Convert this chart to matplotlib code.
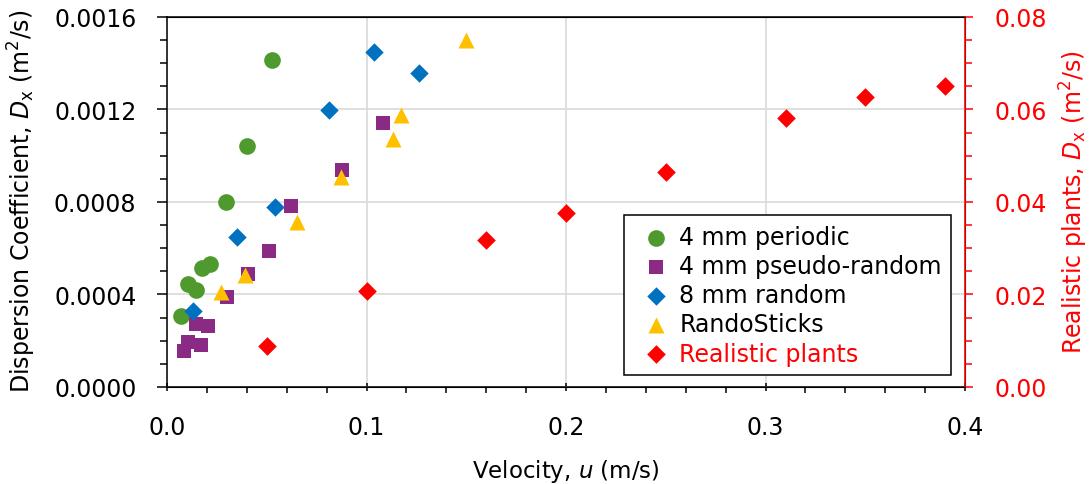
import matplotlib
matplotlib.use('Agg')
import numpy as np
from matplotlib import pyplot as plt
from matplotlib.ticker import MultipleLocator, FormatStrFormatter

# 4 mm periodic
per_u = [0.0069, 0.0107, 0.0145, 0.0174, 0.0216, 0.0294, 0.0403, 0.0525]
per_d = [0.000306, 0.000445, 0.00042, 0.000513, 0.000532, 0.0008, 0.001044, 0.001413]
# 4 mm pseudo-random
pse_u = [0.0084, 0.0107, 0.017, 0.0145, 0.0204, 0.0302, 0.0404, 0.0513, 0.0623, 0.0876, 0.1083]
pse_d = [0.000154, 0.000193, 0.000182, 0.000272, 0.000262, 0.00039, 0.000489, 0.000587, 0.000781, 0.00094, 0.00114]
# 8 mm random
rnd_u = [0.0132, 0.0351, 0.0541, 0.081, 0.1039, 0.1263]
rnd_d = [0.000327, 0.000647, 0.00078, 0.001198, 0.00145, 0.001358]
# RandoSticks
stk_u = [0.0269, 0.0391, 0.065, 0.0872, 0.1131, 0.1173, 0.150]
stk_d = [0.00041, 0.000484, 0.000715, 0.000909, 0.001072, 0.001178, 0.001502]
# Realistic plants (right axis)
pl_u = [0.05, 0.10, 0.16, 0.20, 0.25, 0.31, 0.35, 0.39]
pl_d = [0.0089, 0.0208, 0.0318, 0.0376, 0.0464, 0.0581, 0.0628, 0.0651]

plt.rcParams['font.family'] = ['DejaVu Sans']

fig = plt.figure(figsize=(10.89, 4.85), dpi=100)
ax = fig.add_axes([0.1534, 0.2, 0.7328, 0.763])
ax2 = ax.twinx()

h1 = ax.scatter(per_u, per_d, s=144, marker='o', color='#4E9A2E', linewidths=0, label='4 mm periodic', zorder=3)
h2 = ax.scatter(pse_u, pse_d, s=112, marker='s', color='#8B2A84', linewidths=0, label='4 mm pseudo-random', zorder=3)
h3 = ax.scatter(rnd_u, rnd_d, s=88, marker='D', color='#0070C0', linewidths=0, label='8 mm random', zorder=3)
h4 = ax.scatter(stk_u, stk_d, s=133, marker='^', color='#FFC000', linewidths=0, label='RandoSticks', zorder=3)
h5 = ax2.scatter(pl_u, pl_d, s=90, marker='D', color='#FF0000', linewidths=0, label='Realistic plants', zorder=3)

ax.set_xlim(0, 0.4)
ax.set_ylim(0, 0.0016)
ax2.set_ylim(0, 0.08)

ax.xaxis.set_major_locator(MultipleLocator(0.1))
ax.xaxis.set_minor_locator(MultipleLocator(0.02))
ax.yaxis.set_major_locator(MultipleLocator(0.0004))
ax.yaxis.set_minor_locator(MultipleLocator(0.0001))
ax.xaxis.set_major_formatter(FormatStrFormatter('%.1f'))
ax.yaxis.set_major_formatter(FormatStrFormatter('%.4f'))
ax2.yaxis.set_major_locator(MultipleLocator(0.02))
ax2.yaxis.set_minor_locator(MultipleLocator(0.005))
ax2.yaxis.set_major_formatter(FormatStrFormatter('%.2f'))

ax.grid(which='major', color='#D9D9D9', linewidth=1.2, zorder=0)
ax.set_axisbelow(True)

ax.tick_params(axis='y', which='major', direction='out', length=7, width=1.1, labelsize=17, pad=15)
ax.tick_params(axis='y', which='minor', direction='out', length=5, width=1.1)
ax.tick_params(axis='x', which='major', direction='inout', length=6, width=1.1, labelsize=17, pad=17)
ax.tick_params(axis='x', which='minor', direction='out', length=4, width=1.1)
ax2.tick_params(which='major', direction='out', length=6, width=1.1, labelsize=17, pad=15, colors='red')
ax2.tick_params(which='minor', direction='out', length=5, width=1.1, colors='red')

for s in ['left', 'bottom', 'top']:
    ax.spines[s].set_linewidth(1.1)
ax2.spines['right'].set_color('red')
ax2.spines['right'].set_linewidth(1.1)
ax2.spines['left'].set_visible(False)

ax.set_xlabel('Velocity, $u$ (m/s)', fontsize=16.5)
ax.set_ylabel('Dispersion Coefficient, $D_\\mathregular{x}$ (m$^2$/s)', fontsize=17)
ax2.set_ylabel('Realistic plants, $D_\\mathregular{x}$ (m$^2$/s)', fontsize=17, color='red')
ax.xaxis.set_label_coords(0.5, -0.189)
ax.yaxis.set_label_coords(-0.162, 0.505)
ax2.yaxis.set_label_coords(1.1165, 0.503)

leg = ax2.legend(handles=[h1, h2, h3, h4, h5], loc='lower right', bbox_to_anchor=(0.9825, 0.0324),
                 borderaxespad=0, fontsize=17, frameon=True, fancybox=False, edgecolor='black',
                 framealpha=1, handletextpad=0.05, borderpad=0.4, labelspacing=0.22, handlelength=1.88)
leg.get_frame().set_linewidth(1.1)
leg.get_texts()[4].set_color('red')

fig.savefig('out.png', dpi=100)
